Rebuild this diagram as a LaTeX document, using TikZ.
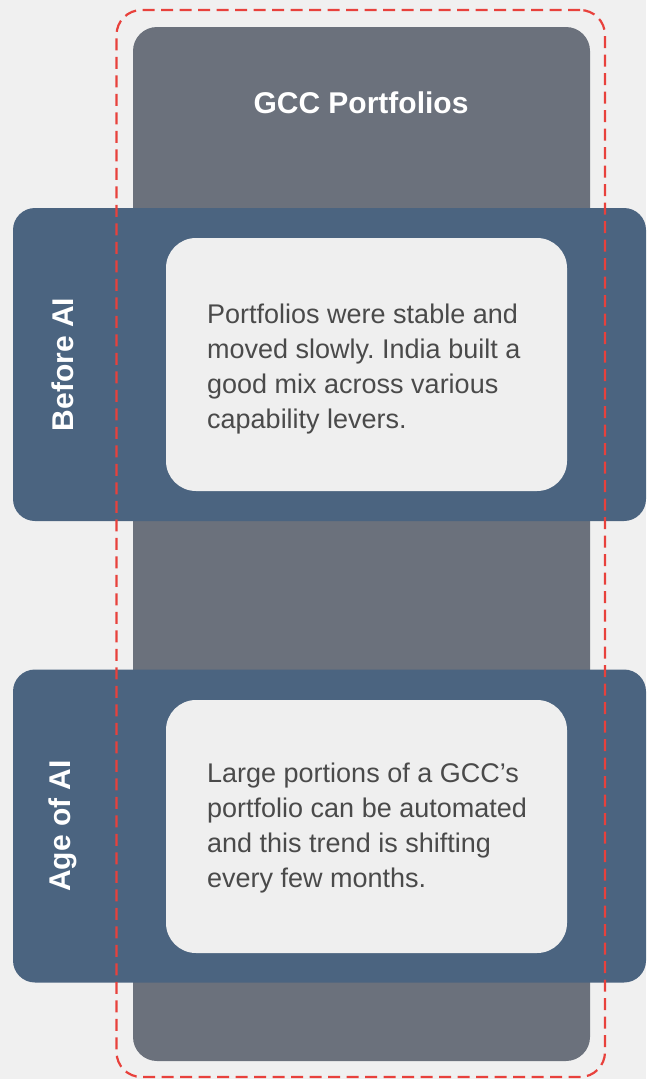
\documentclass[tikz,border=0pt]{standalone}
\usepackage{fontspec}
\setmainfont{Liberation Sans}
\frenchspacing
\definecolor{bgc}{HTML}{F0F0F0}
\definecolor{colc}{HTML}{6B717C}
\definecolor{bandc}{HTML}{4B6480}
\definecolor{innerc}{HTML}{EFEFEF}
\definecolor{redc}{HTML}{E8413C}
\definecolor{bodyc}{HTML}{4A4A4A}
\tikzset{
  colbox/.style={rectangle, rounded corners=24pt, fill=colc, inner sep=0pt},
  bandbox/.style={rectangle, rounded corners=22pt, fill=bandc, inner sep=0pt, minimum width=633pt, minimum height=313pt},
  innerbox/.style={rectangle, rounded corners=30pt, fill=innerc, inner sep=0pt, minimum width=401pt, minimum height=253pt},
  sidelabel/.style={rotate=90, text=white, font=\bfseries\fontsize{30}{36}\selectfont, inner sep=0pt},
  bodytext/.style={anchor=west, align=left, text=bodyc, font=\fontsize{27}{35}\selectfont, inner sep=0pt},
  frame/.style={draw=redc, line width=2.2pt, dash pattern=on 12pt off 6.5pt, rounded corners=25pt},
}
\begin{document}
\begin{tikzpicture}[x=1pt,y=-1pt]
\useasboundingbox[fill=bgc] (0,0) rectangle (646,1079);
\node[colbox, minimum width=457pt, minimum height=1034pt] (col) at (361.5,544) {};
\node[text=white, font=\bfseries\fontsize{30}{36}\selectfont] (title) at (361,103) {GCC Portfolios};
\node[bandbox] (band1) at (329.5,364.5) {};
\node[innerbox] (inner1) at (366.5,364.5) {};
\node[sidelabel] (lab1) at (63,364.5) {Before AI};
\node[bodytext] (txt1) at (207,369) {Portfolios were stable and\\moved slowly. India built a\\good mix across various\\capability levers.};
\node[bandbox] (band2) at (329.5,826) {};
\node[innerbox] (inner2) at (366.5,826.5) {};
\node[sidelabel] (lab2) at (63,826) {Age of AI};
\node[bodytext] (txt2) at (207,828) {Large portions of a GCC’s\\portfolio can be automated\\and this trend is shifting\\every few months.};
\node[frame, minimum width=488.5pt, minimum height=1067pt, inner sep=0pt] (frm) at (360.75,543.5) {};
\end{tikzpicture}
\end{document}
